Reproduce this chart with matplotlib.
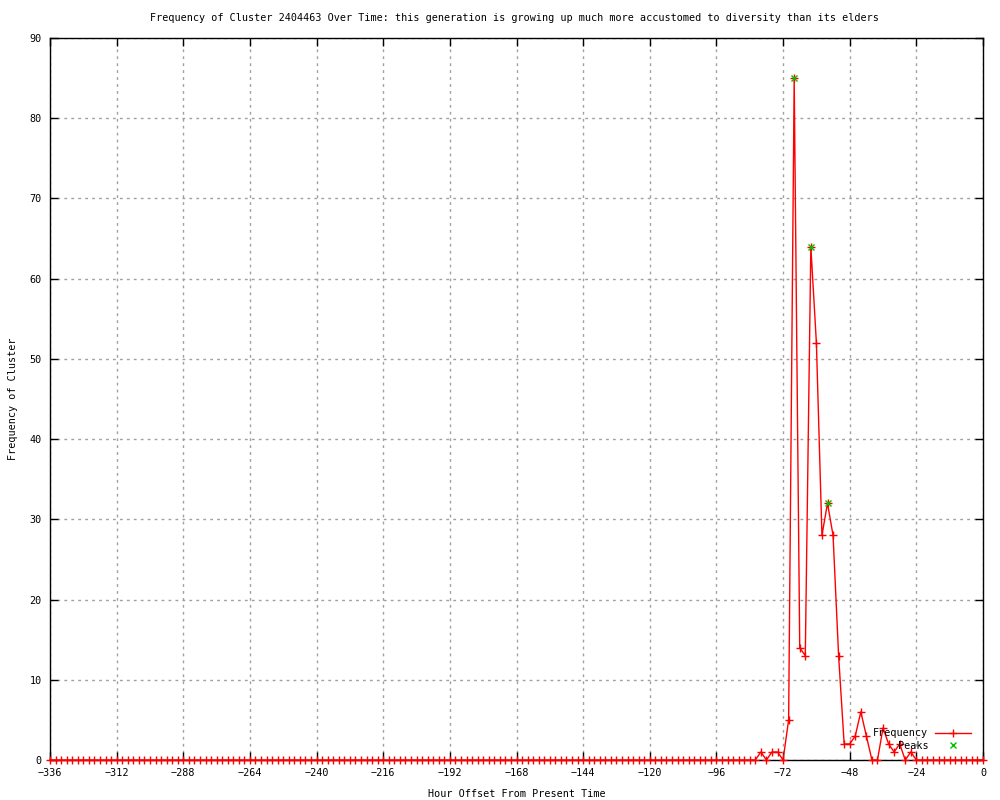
import matplotlib
matplotlib.use("Agg")
import matplotlib.pyplot as plt
import numpy as np

hours = list(range(-336, 1, 2))
frequency = [
    0, 0, 0, 0, 0, 0, 0, 0, 0, 0, 0, 0,
    0, 0, 0, 0, 0, 0, 0, 0, 0, 0, 0, 0,
    0, 0, 0, 0, 0, 0, 0, 0, 0, 0, 0, 0,
    0, 0, 0, 0, 0, 0, 0, 0, 0, 0, 0, 0,
    0, 0, 0, 0, 0, 0, 0, 0, 0, 0, 0, 0,
    0, 0, 0, 0, 0, 0, 0, 0, 0, 0, 0, 0,
    0, 0, 0, 0, 0, 0, 0, 0, 0, 0, 0, 0,
    0, 0, 0, 0, 0, 0, 0, 0, 0, 0, 0, 0,
    0, 0, 0, 0, 0, 0, 0, 0, 0, 0, 0, 0,
    0, 0, 0, 0, 0, 0, 0, 0, 0, 0, 0, 0,
    0, 0, 0, 0, 0, 0, 0, 0, 1, 0, 1, 1,
    0, 5, 85, 14, 13, 64, 52, 28, 32, 28, 13, 2,
    2, 3, 6, 3, 0, 0, 4, 2, 1, 2, 0, 1,
    0, 0, 0, 0, 0, 0, 0, 0, 0, 0, 0, 0,
    0,
]
peak_hours = [-68, -62, -56]
peak_values = [85, 64, 32]

x_ticks = list(range(-336, 1, 24))
y_ticks = list(range(0, 91, 10))

title = "Frequency of Cluster 2404463 Over Time: this generation is growing up much more accustomed to diversity than its elders"

plt.rcParams['font.family'] = ['DejaVu Sans Mono']
fs = 7.3

fig = plt.figure(figsize=(10, 8), dpi=100)
ax = fig.add_axes([0.05, 0.05, 0.933, 0.9025])

ax.plot(hours, frequency, color='#ff0000', lw=1, marker='+', ms=6, mew=1,
        label='Frequency', zorder=3, clip_on=False)
ax.plot(peak_hours, peak_values, linestyle='none', color='#00c000', marker='x',
        ms=5, mew=1, label='Peaks', zorder=4, clip_on=False)

ax.set_xlim(-336, 0)
ax.set_ylim(0, 90)
ax.set_xticks(x_ticks)
ax.set_yticks(y_ticks)
ax.tick_params(direction='in', length=6, width=1, top=True, right=True,
               labelsize=fs, colors='black', pad=6)
ax.grid(True, color='#a0a0a0', linestyle=(0, (2, 3)), linewidth=1)
for s in ax.spines.values():
    s.set_color('black')
    s.set_linewidth(1)
    s.set_zorder(2)

fig.text(0.514, 1 - 18 / 800, title, ha='center', va='center', fontsize=fs)
ax.set_xlabel('Hour Offset From Present Time', fontsize=fs, labelpad=8)
ax.set_ylabel('Frequency of Cluster', fontsize=fs, labelpad=8)

leg = ax.legend(loc='lower right', bbox_to_anchor=(0.997, 0.0), frameon=False,
                markerfirst=False, fontsize=fs, handlelength=3.6,
                handletextpad=0.6, labelspacing=0.25, borderaxespad=0.5)

fig.savefig('out.png', dpi=100)
